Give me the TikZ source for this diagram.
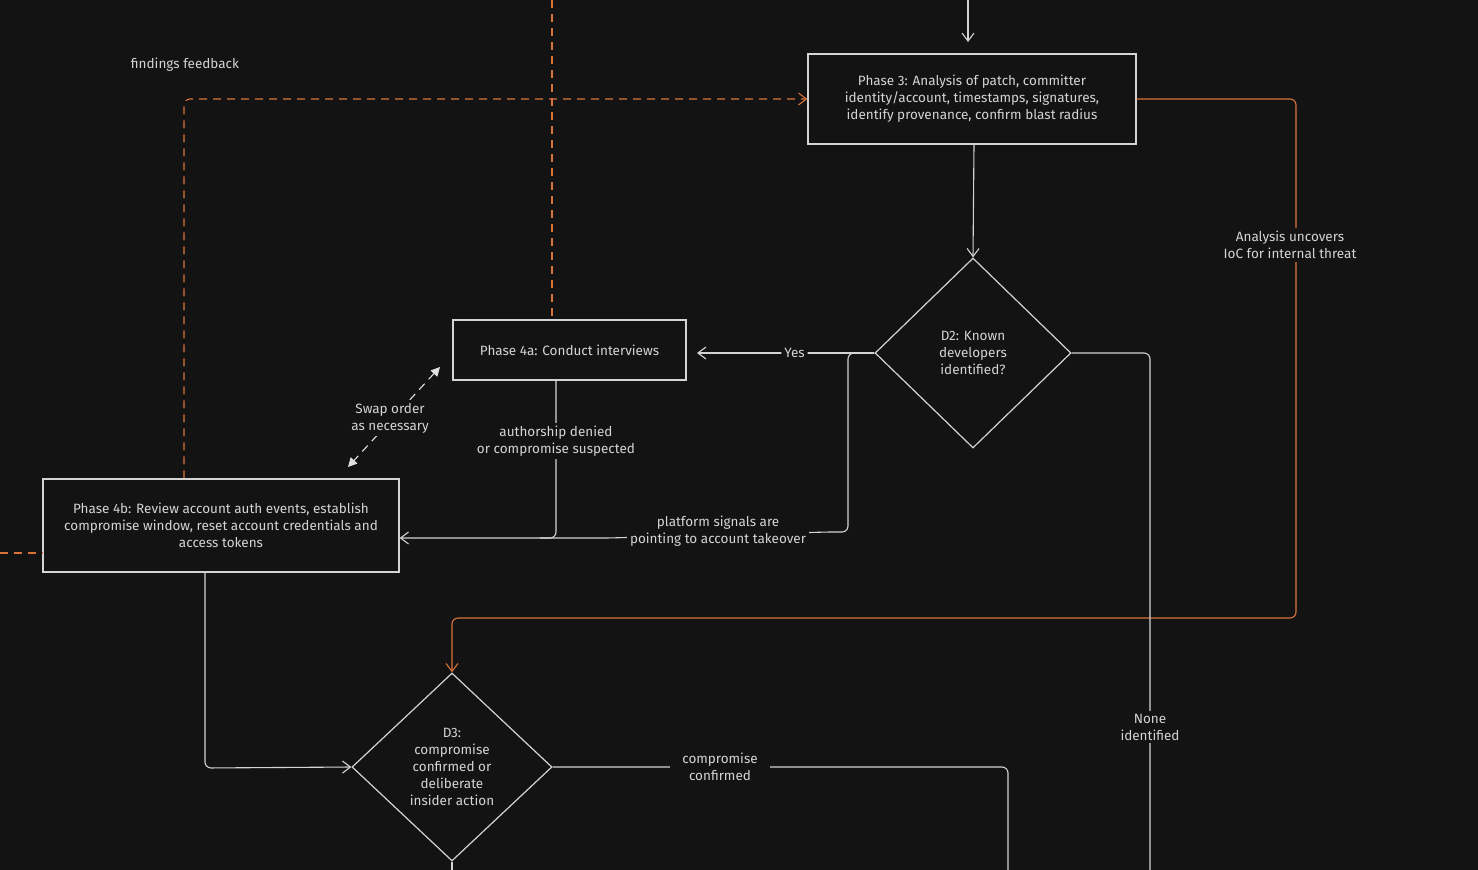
\documentclass[tikz,border=0pt]{standalone}
\usepackage{fontspec}
\setmainfont{Fira Sans}
\usetikzlibrary{shapes.geometric,arrows.meta}
\definecolor{bg}{HTML}{131313}
\definecolor{fg}{HTML}{D4D4D4}
\definecolor{org}{HTML}{D9733A}
\begin{document}
\begin{tikzpicture}[x=1pt,y=-1pt,
  every node/.style={font=\fontsize{13.5}{17}\selectfont, text=fg, align=center},
  box/.style={draw=fg, line width=1.2pt, inner sep=0pt},
  dia/.style={diamond, draw=fg, line width=1.2pt, inner sep=0pt, minimum width=196, minimum height=190},
  ln/.style={draw=fg, line width=1.1pt, rounded corners=6pt},
  arr/.style={ln, -{Straight Barb[length=8pt,width=12pt]}},
  oln/.style={draw=org, line width=1.1pt, rounded corners=6pt},
  oarr/.style={oln, -{Straight Barb[length=8pt,width=12pt]}},
  dsh/.style={dash pattern=on 8pt off 6pt},
  lbl/.style={fill=bg, inner sep=3pt}]
\fill[bg] (0,0) rectangle (1478,870);
\useasboundingbox (0,0) rectangle (1478,870);

\node[box, minimum width=328, minimum height=90] (p3) at (972,99) {Phase 3: Analysis of patch, committer\\identity/account, timestamps, signatures,\\identify provenance, confirm blast radius};
\node[dia] (d2) at (973,353) {D2: Known\\developers\\identified?};
\node[box, minimum width=233, minimum height=60] (p4a) at (569.5,350) {Phase 4a: Conduct interviews};
\node[box, minimum width=356, minimum height=93] (p4b) at (221,525.5) {Phase 4b: Review account auth events, establish\\compromise window, reset account credentials and\\access tokens};
\node[dia, minimum width=200, minimum height=188] (d3) at (452,767) {D3:\\compromise\\confirmed or\\deliberate\\insider action};

\coordinate (top) at (968,0);
\coordinate (topo) at (552,0);
\coordinate (lefto) at (0,553);
\coordinate (bot1) at (1150,870);
\coordinate (bot2) at (1008,870);
\coordinate (bot3) at (452,870);

\draw[arr] (top) -- (968,42);
\draw[arr] (p3.south -| 974,0) -- (d2.north);

\draw[arr] (d2.west) -- (697,353) node[pos=0.45, lbl]{Yes};
\draw[arr] (d2.west) -- (848,353) -- (848,532) -- (828,532) -- (608,538) -- (p4b.east |- 0,538);
\node[lbl] at (718,531) {platform signals are\\pointing to account takeover};
\draw[ln] (p4a.south -| 556,0) -- (556,538) -- (540,538);
\node[lbl] at (556,441) {authorship denied\\or compromise suspected};

\draw[draw=fg!70, line width=1.1pt, dsh, {Triangle[length=9pt,width=9pt]}-{Triangle[length=9pt,width=9pt]}] (440,367) -- (348,467);
\node[lbl] at (390,418) {Swap order\\as necessary};

\draw[draw=org, line width=1.1pt, dsh] (topo) -- (p4a.north -| topo);
\draw[oln, dsh, -{Straight Barb[length=8pt,width=12pt]}] (p4b.north -| 184,0) -- (184,99) -- (p3.west);
\draw[draw=org, line width=1.1pt, dsh] (lefto) -- (p4b.west |- lefto);
\node at (185,65) {findings feedback};

\draw[oarr] (p3.east) -- (1296,99) -- (1296,618) -- (452,618) -- (d3.north);
\node[lbl] at (1290,245) {Analysis uncovers\\IoC for internal threat};

\draw[ln] (d2.east) -- (1150,353) -- (bot1);
\node[lbl] at (1150,727) {None\\identified};

\draw[arr] (p4b.south -| 205,0) -- (205,768) -- (d3.west);

\draw[ln] (d3.east) -- (1008,767) -- (bot2);
\node[lbl, inner xsep=12pt] at (720,767) {compromise\\confirmed};
\draw[ln] (d3.south) -- (bot3);
\end{tikzpicture}
\end{document}
